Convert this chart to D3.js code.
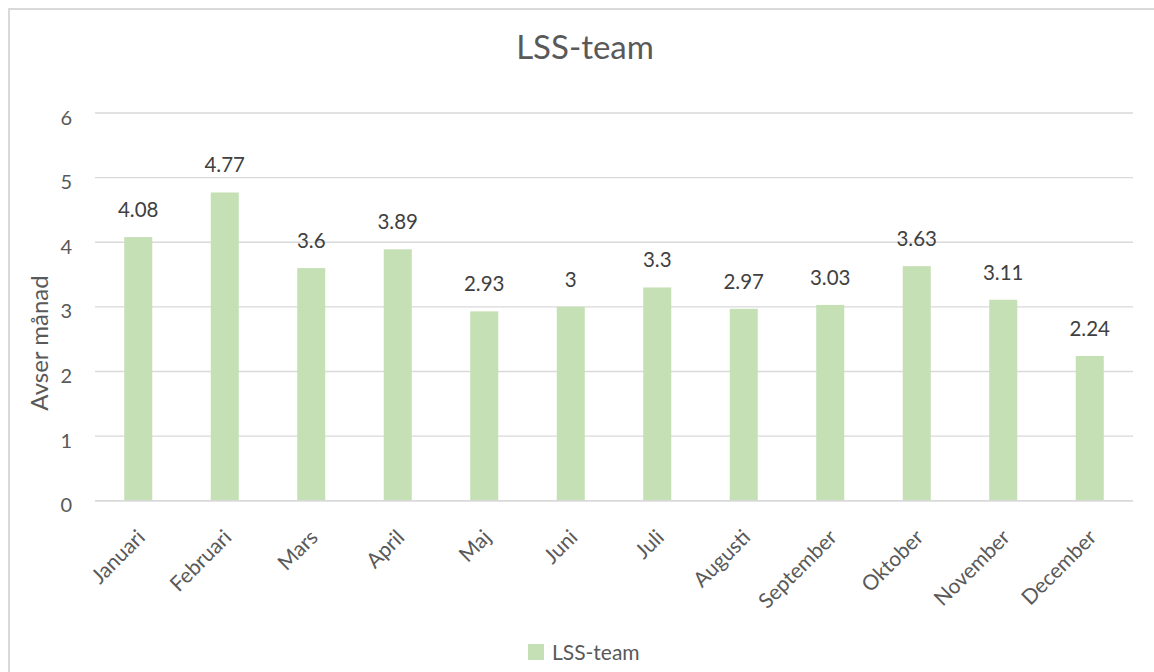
<!DOCTYPE html>
<html>
<head>
<meta charset="utf-8">
<script src="https://cdn.jsdelivr.net/npm/d3@7"></script>
<style>
  html, body { margin: 0; padding: 0; background: #fff; }
  svg { display: block; font-family: Lato, "Open Sans", sans-serif; }
</style>
</head>
<body>
<svg id="chart" width="1154" height="672"></svg>
<script>
const categories = ["Januari", "Februari", "Mars", "April", "Maj", "Juni", "Juli", "Augusti", "September", "Oktober", "November", "December"];
const values = [4.08, 4.77, 3.6, 3.89, 2.93, 3, 3.3, 2.97, 3.03, 3.63, 3.11, 2.24];
const yTicks = [0, 1, 2, 3, 4, 5, 6];
const seriesName = "LSS-team";
const chartTitle = "LSS-team";
const yAxisTitle = "Avser månad";

const svg = d3.select("#chart");
const textColor = "#595959";
const gridColor = "#D9D9D9";
const barColor = "#C5E0B4";

// outer chart border
svg.append("rect")
  .attr("x", 9).attr("y", 9)
  .attr("width", 1160).attr("height", 680)
  .attr("fill", "none").attr("stroke", gridColor).attr("stroke-width", 2);

const plot = { left: 95, right: 1133, top: 113, bottom: 500.7 };

const x = d3.scaleBand().domain(categories).range([plot.left, plot.right]).paddingInner(0.676).paddingOuter(0.338);
const y = d3.scaleLinear().domain([0, 6]).range([plot.bottom, plot.top]);

// gridlines
svg.append("g").selectAll("line").data(yTicks).join("line")
  .attr("x1", plot.left).attr("x2", plot.right)
  .attr("y1", d => y(d)).attr("y2", d => y(d))
  .attr("stroke", gridColor).attr("stroke-width", 1.4);

// y tick labels via axis
const yAxis = d3.axisLeft(y).tickValues(yTicks).tickSize(0).tickPadding(23).tickFormat(d3.format("d"));
const gy = svg.append("g").attr("transform", `translate(${plot.left},0)`).call(yAxis);
gy.select(".domain").remove();
gy.selectAll("text").attr("fill", textColor).attr("font-size", 20).attr("dy", "0.55em")
  .attr("font-family", "Lato, 'Open Sans', sans-serif");

// bars
svg.append("g").selectAll("rect").data(values).join("rect")
  .attr("x", (d, i) => x(categories[i]))
  .attr("width", x.bandwidth())
  .attr("y", d => y(d))
  .attr("height", d => y(0) - y(d))
  .attr("fill", barColor);

// baseline
svg.append("line")
  .attr("x1", plot.left).attr("x2", plot.right)
  .attr("y1", y(0)).attr("y2", y(0))
  .attr("stroke", gridColor).attr("stroke-width", 1.6);

// data labels
svg.append("g").selectAll("text").data(values).join("text")
  .attr("x", (d, i) => x(categories[i]) + x.bandwidth() / 2)
  .attr("y", d => y(d) - 20)
  .attr("text-anchor", "middle")
  .attr("fill", "#404040")
  .attr("font-size", 20.5)
  .text(d => String(d));

// x labels
svg.append("g").selectAll("text").data(categories).join("text")
  .attr("transform", d => `translate(${x(d) + x.bandwidth() / 2 + 8},${plot.bottom + 38}) rotate(-45)`)
  .attr("text-anchor", "end")
  .attr("fill", textColor)
  .attr("font-size", 21)
  .text(d => d);

// title
svg.append("text")
  .attr("x", 585).attr("y", 59)
  .attr("text-anchor", "middle")
  .attr("fill", textColor)
  .attr("font-size", 33)
  .text(chartTitle);

// y axis title
svg.append("text")
  .attr("transform", `translate(48,343) rotate(-90)`)
  .attr("text-anchor", "middle")
  .attr("fill", textColor)
  .attr("font-size", 24)
  .text(yAxisTitle);

// legend
const lg = svg.append("g");
lg.append("rect").attr("x", 528).attr("y", 644).attr("width", 16).attr("height", 16).attr("fill", barColor);
lg.append("text").attr("x", 552).attr("y", 660).attr("fill", textColor).attr("font-size", 21).text(seriesName);
</script>
</body>
</html>
